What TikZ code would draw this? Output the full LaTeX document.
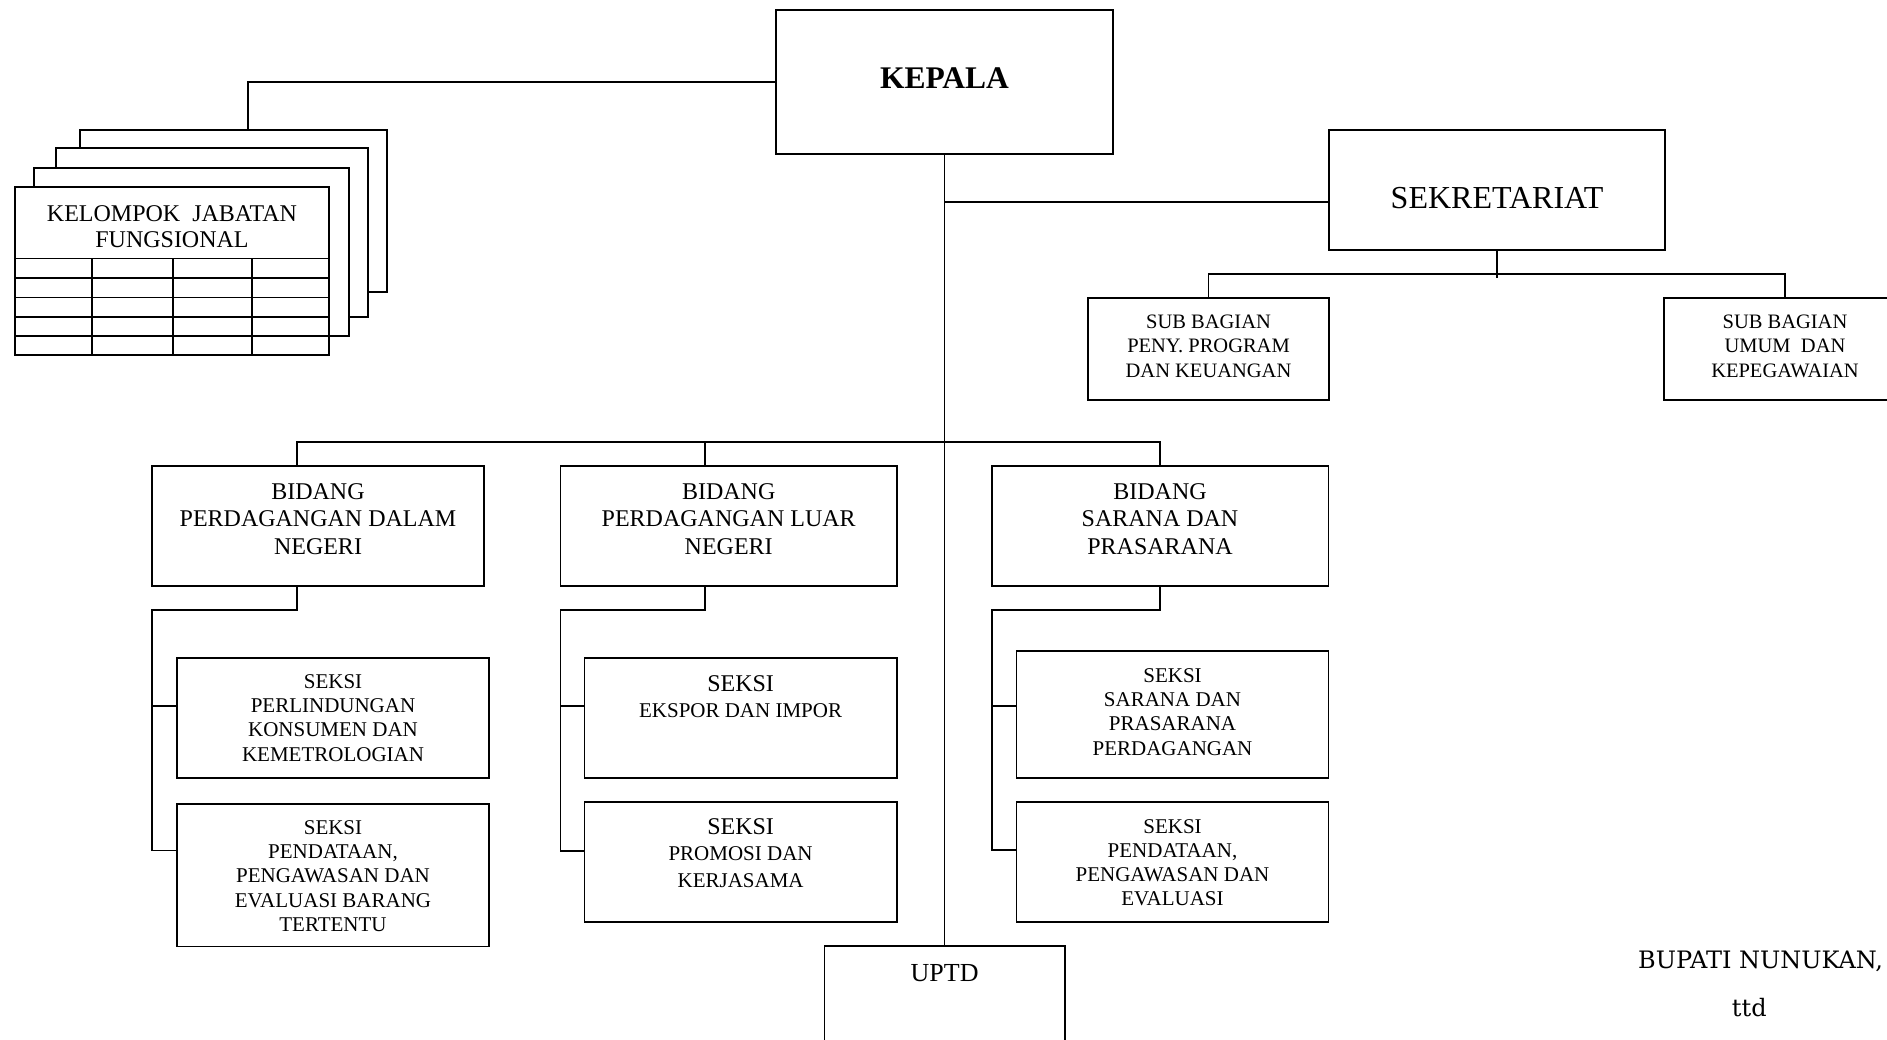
\documentclass[tikz,border=0pt]{standalone}
\usepackage{fontspec}
\setmainfont{Liberation Serif}
\newfontfamily\bupfont{DejaVu Serif}
\newcommand\orgbox[5]{\node[orgbox, minimum width={#4-#2}, minimum height={#5-#3}] (#1) at (#2,#3) {};}
\begin{document}
\begin{tikzpicture}[x=1pt,y=-1pt,
  orgbox/.style={draw, line width=1.9pt, rectangle, inner sep=0pt, outer sep=0pt, anchor=north west, fill=white},
  conn/.style={line width=1.9pt},
  lbl/.style={align=center, inner sep=0pt, outer sep=0pt},
  fbig/.style={font=\fontsize{32}{36}\selectfont},
  fbid/.style={font=\fontsize{24}{27.5}\selectfont},
  fsek/.style={font=\fontsize{21}{24.2}\selectfont},
  fsub/.style={font=\fontsize{20.5}{24.5}\selectfont}]
\useasboundingbox (0,0) rectangle (1887,1040);
% boxes
\orgbox{kepala}{776}{10}{1113}{154}
\orgbox{sek}{1329}{130}{1665}{250}
\orgbox{sub1}{1088}{298}{1329}{400}
\orgbox{sub2}{1664}{298}{1906}{400}
\orgbox{bid1}{152}{466}{484}{586}
\orgbox{bid2}{560.5}{466}{897}{586}
\orgbox{bid3}{992}{466}{1328.5}{586}
\orgbox{s1a}{177}{658}{489}{778}
\orgbox{s1b}{177}{804}{489}{946.5}
\orgbox{s2a}{584.5}{658}{897}{778}
\orgbox{s2b}{584.5}{802}{897}{922}
\orgbox{s3a}{1016.5}{651}{1328.5}{778}
\orgbox{s3b}{1016.5}{802}{1328.5}{922}
\orgbox{uptd}{824.5}{946}{1065}{1060}
% kelompok jabatan fungsional stack
\orgbox{kjf4}{80}{130}{386.7}{291.7}
\orgbox{kjf3}{56}{148.3}{368}{316.7}
\orgbox{kjf2}{34.3}{167.7}{348.7}{336}
\orgbox{kjf1}{15}{186.7}{329.3}{355}
\foreach \yy in {258.5,278.3,297.5,316.7,336}
  \draw[line width=1.9pt] (15,\yy) -- (329.3,\yy);
\foreach \xx in {92,173,252}
  \draw[line width=1.9pt] (\xx,258.5) -- (\xx,355);
% texts
\node[lbl, font=\fontsize{31.5}{36}\selectfont\bfseries] (kepala-t) at (944.5,78) {KEPALA};
\node[lbl, fbig] (sek-t) at (1497,198) {SEKRETARIAT};
\node[lbl, fsub] (sub1-t) at (1208.5,346) {SUB BAGIAN\\PENY. PROGRAM\\DAN KEUANGAN};
\node[lbl, fsub] (sub2-t) at (1785,346) {SUB BAGIAN\\UMUM\ \ DAN\\KEPEGAWAIAN};
\node[lbl, fbid] (bid1-t) at (318,519) {BIDANG\\PERDAGANGAN DALAM\\NEGERI};
\node[lbl, fbid] (bid2-t) at (728.7,519) {BIDANG\\PERDAGANGAN LUAR\\NEGERI};
\node[lbl, fbid] (bid3-t) at (1160,519) {BIDANG\\SARANA DAN\\PRASARANA};
\node[lbl, fsek] (s1a-t) at (333,718) {SEKSI\\PERLINDUNGAN\\KONSUMEN DAN\\KEMETROLOGIAN};
\node[lbl, fsek] (s1b-t) at (333,876) {SEKSI\\PENDATAAN,\\PENGAWASAN DAN\\EVALUASI BARANG\\TERTENTU};
\node[lbl, font=\fontsize{21}{26.5}\selectfont] (s2a-t) at (740.6,696.5) {{\fontsize{24}{26.5}\selectfont SEKSI}\\EKSPOR DAN IMPOR};
\node[lbl, font=\fontsize{21}{26.2}\selectfont] (s2b-t) at (740.6,853) {{\fontsize{24}{26.2}\selectfont SEKSI}\\PROMOSI DAN\\KERJASAMA};
\node[lbl, fsek] (s3a-t) at (1172.5,712) {SEKSI\\SARANA DAN\\PRASARANA\\PERDAGANGAN};
\node[lbl, fsek] (s3b-t) at (1172.5,862.5) {SEKSI\\PENDATAAN,\\PENGAWASAN DAN\\EVALUASI};
\node[lbl, font=\fontsize{26}{30}\selectfont] (uptd-t) at (944.6,973) {UPTD};
\node[lbl, font=\fontsize{24}{26.7}\selectfont] (kjf-t) at (172,226.7) {KELOMPOK\ \ JABATAN\\FUNGSIONAL};
\node[inner sep=0pt, anchor=west, font=\bupfont\fontsize{24}{28}\selectfont] (bupati) at (1638,961.7) {BUPATI NUNUKAN,};
\node[inner sep=0pt, font=\bupfont\fontsize{24}{28}\selectfont] (ttd) at (1749.3,1008) {ttd};
% connectors
\draw[conn] (kepala.west) -| ([xshift=15pt]kjf4.north);
\draw[conn] (kepala.south) -- (kepala.south |- uptd.north);
\coordinate (sekjoin) at ([yshift=-12pt]sek.west);
\draw[conn] (kepala.south |- sekjoin) -- (sekjoin);
\coordinate (sekbar) at ([yshift=-24pt]sek.south);
\draw[conn] (sek.south) -- ([yshift=-28pt]sek.south);
\draw[conn] (sub1.north) |- (sekbar) -| (sub2.north);
\draw[conn] ([xshift=-21pt]bid1.north) -- ++(0,-24) -| (bid3.north);
\draw[conn] ([xshift=-24pt]bid2.north) -- ++(0,-24);
\coordinate (b1a) at ([yshift=12pt]s1a.west);
\coordinate (b1b) at ([yshift=24.8pt]s1b.west);
\coordinate (b2a) at ([yshift=12pt]s2a.west);
\coordinate (b2b) at ([yshift=11.3pt]s2b.west);
\coordinate (b3a) at ([yshift=8.3pt]s3a.west);
\coordinate (b3b) at ([yshift=12pt]s3b.west);
\draw[conn] ([xshift=-21pt]bid1.south) -- ++(0,24) -| (b1b -| bid1.west) -- (b1b);
\draw[conn] (b1a -| bid1.west) -- (b1a);
\draw[conn] ([xshift=-24pt]bid2.south) -- ++(0,24) -| (b2b -| bid2.west) -- (b2b);
\draw[conn] (b2a -| bid2.west) -- (b2a);
\draw[conn] (bid3.south) -- ++(0,24) -| (b3b -| bid3.west) -- (b3b);
\draw[conn] (b3a -| bid3.west) -- (b3a);
\end{tikzpicture}
\end{document}
